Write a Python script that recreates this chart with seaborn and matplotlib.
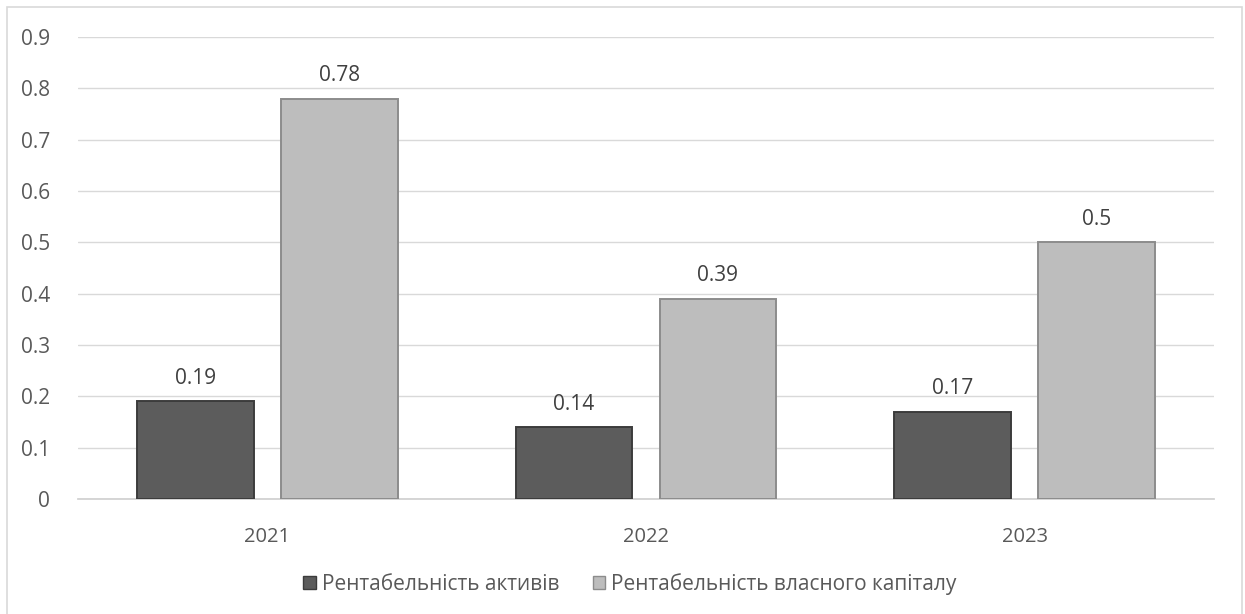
import matplotlib
matplotlib.use("Agg")
import matplotlib.pyplot as plt
import seaborn as sns
import pandas as pd
from matplotlib.patches import Rectangle

years = ["2021", "2022", "2023"]
roa = [0.19, 0.14, 0.17]
roe = [0.78, 0.39, 0.50]
series_names = ["Рентабельність активів", "Рентабельність власного капіталу"]
value_labels_roa = ["0.19", "0.14", "0.17"]
value_labels_roe = ["0.78", "0.39", "0.5"]
y_ticks = [0, 0.1, 0.2, 0.3, 0.4, 0.5, 0.6, 0.7, 0.8, 0.9]

df = pd.DataFrame({
    "year": years * 2,
    "value": roa + roe,
    "series": [series_names[0]] * 3 + [series_names[1]] * 3,
})

sns.set_theme(style="white")
plt.rcParams["font.family"] = ["Open Sans", "DejaVu Sans"]

W, H = 1245, 614
fig = plt.figure(figsize=(W / 100, H / 100), dpi=100)
ax = fig.add_axes([78 / W, 1 - 499 / H, (1214 - 78) / W, (499 - 37) / H])

palette = {series_names[0]: "#5c5c5c", series_names[1]: "#bdbdbd"}
edges = {series_names[0]: "#3c3c3c", series_names[1]: "#8c8c8c"}
sns.barplot(data=df, x="year", y="value", hue="series", palette=palette,
            width=0.76, gap=0.19, ax=ax, legend=False, zorder=3)

for container, name in zip(ax.containers, series_names):
    for patch in container:
        patch.set_edgecolor(edges[name])
        patch.set_linewidth(1.4)

for container, labs in zip(ax.containers, [value_labels_roa, value_labels_roe]):
    ax.bar_label(container, labels=labs, padding=9, fontsize=15, color="#404040")

ax.set_ylim(0, 0.9)
ax.set_yticks(y_ticks)
ax.set_yticklabels(["0" if t == 0 else f"{t:.1f}" for t in y_ticks])
ax.set_xlim(-0.5, 2.5)
ax.yaxis.grid(True, color="#d9d9d9", linewidth=1)
ax.set_axisbelow(True)
for s in ["top", "right", "left"]:
    ax.spines[s].set_visible(False)
ax.spines["bottom"].set_color("#d0d0d0")
ax.tick_params(axis="y", labelsize=15, labelcolor="#595959", length=0, pad=20)
ax.tick_params(axis="x", labelsize=14.5, labelcolor="#595959", length=0, pad=20)
ax.set_xlabel("")
ax.set_ylabel("")

handles = [Rectangle((0, 0), 1, 1, facecolor=palette[n], edgecolor=edges[n])
           for n in series_names]
fig.legend(handles, series_names, loc="center", bbox_to_anchor=(630 / W, 1 - 584 / H),
           ncol=2, frameon=False, fontsize=15, handlelength=0.6, handleheight=0.6,
           handletextpad=0.3, columnspacing=1.6, labelcolor="#595959")

fig.patches.append(Rectangle((7 / W, -0.01), (1242 - 7) / W, 1 - 7 / H + 0.01,
                             transform=fig.transFigure, fill=False,
                             edgecolor="#d9d9d9", linewidth=1.2))

fig.savefig("out.png", dpi=100, facecolor="white")
